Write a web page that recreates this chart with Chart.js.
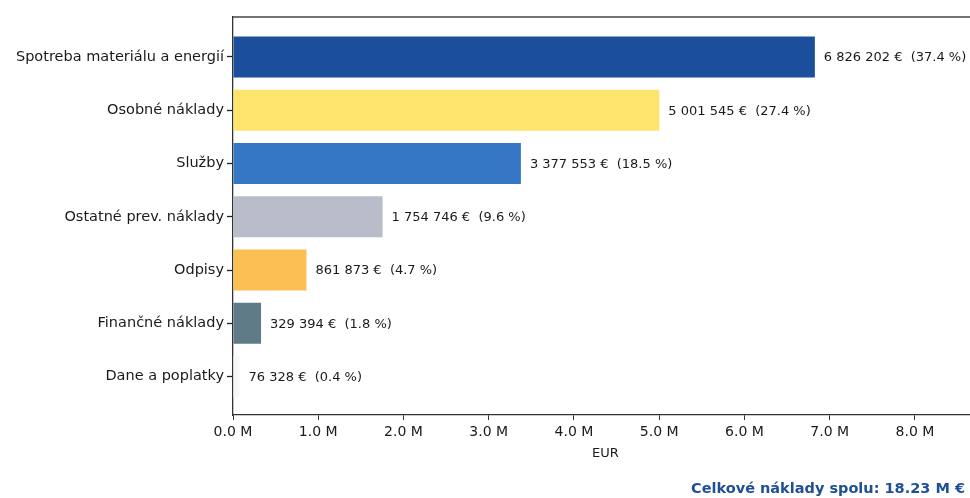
<!DOCTYPE html>
<html lang="sk">
<head>
<meta charset="utf-8">
<title>Štruktúra nákladov</title>
<script src="https://cdn.jsdelivr.net/npm/chart.js@4.4.1/dist/chart.umd.min.js"></script>
<style>
  html, body { margin: 0; padding: 0; background: #fff; overflow: hidden; }
  #wrap { position: relative; width: 970px; height: 498px; overflow: hidden; }
  #costChart { position: absolute; left: 0; top: 0; }
  #total {
    position: absolute; right: 5px; top: 480px;
    font: bold 14.5px "DejaVu Sans", sans-serif; color: #1f4f94; white-space: nowrap;
  }
</style>
</head>
<body>
<div id="wrap">
  <canvas id="costChart" width="1000" height="498"></canvas>
  <div id="total"></div>
</div>
<script>
// nákladové druhy (zhora nadol)
const categories = [
  'Spotreba materiálu a energií',
  'Osobné náklady',
  'Služby',
  'Ostatné prev. náklady',
  'Odpisy',
  'Finančné náklady',
  'Dane a poplatky'
];
const costs = [6826202, 5001545, 3377553, 1754746, 861873, 329394, 76328];
const barColors = ['#1b4f9b', '#fde46d', '#3677c5', '#b9bdc9', '#fcbf53', '#5f7b87', '#f6f7f9'];
const xTicks = [0, 1e6, 2e6, 3e6, 4e6, 5e6, 6e6, 7e6, 8e6];

const total = costs.reduce((a, b) => a + b, 0);

const FONT = 'DejaVu Sans';

function fmtEur(v) {
  return String(v).replace(/\B(?=(\d{3})+(?!\d))/g, ' ') + ' €';
}

// popisky hodnôt vpravo od stĺpcov
const valueLabels = {
  id: 'valueLabels',
  afterDatasetsDraw(chart) {
    const ctx = chart.ctx;
    const meta = chart.getDatasetMeta(0);
    ctx.save();
    ctx.font = '13px "' + FONT + '"';
    ctx.fillStyle = '#1a1a1a';
    ctx.textBaseline = 'middle';
    ctx.textAlign = 'left';
    meta.data.forEach((bar, i) => {
      const pct = (costs[i] / total * 100).toFixed(1);
      ctx.fillText(fmtEur(costs[i]) + '  (' + pct + ' %)', bar.x + 9, bar.y + 1);
    });
    ctx.restore();
  }
};

// horný okraj rámu grafu
const topFrame = {
  id: 'topFrame',
  afterDraw(chart) {
    const { ctx, chartArea } = chart;
    ctx.save();
    ctx.strokeStyle = '#444';
    ctx.lineWidth = 1.3;
    ctx.beginPath();
    ctx.moveTo(chartArea.left, chartArea.top);
    ctx.lineTo(chartArea.right, chartArea.top);
    ctx.stroke();
    ctx.restore();
  }
};

new Chart(document.getElementById('costChart'), {
  type: 'bar',
  data: {
    datasets: [{
      data: costs.map((v, i) => ({ x: v, y: i })),
      backgroundColor: barColors,
      borderWidth: 0,
      categoryPercentage: 1,
      barPercentage: 0.77
    }]
  },
  options: {
    indexAxis: 'y',
    responsive: false,
    animation: false,
    devicePixelRatio: 1,
    layout: { padding: { top: 17, right: 22, bottom: 37, left: 0 } },
    plugins: {
      legend: { display: false },
      tooltip: { enabled: false }
    },
    scales: {
      x: {
        type: 'linear',
        min: 0,
        max: 8.74e6,
        afterBuildTicks: (scale) => { scale.ticks = xTicks.map(v => ({ value: v })); },
        afterFit: (scale) => { scale.height = 46; },
        border: { display: true, color: '#333', width: 1.3 },
        grid: { drawOnChartArea: false, drawTicks: true, tickLength: 5, color: '#333' },
        ticks: {
          padding: 4,
          color: '#1a1a1a',
          font: { family: FONT, size: 14 },
          callback: (v) => (v / 1e6).toFixed(1) + ' M'
        },
        title: {
          display: true,
          text: 'EUR',
          color: '#1a1a1a',
          font: { family: FONT, size: 13 },
          padding: { top: 2, bottom: 0 }
        }
      },
      y: {
        type: 'linear',
        offset: false,
        reverse: true,
        min: -0.75,
        max: 6.72,
        afterBuildTicks: (scale) => { scale.ticks = categories.map((c, i) => ({ value: i })); },
        afterFit: (scale) => { scale.width = 233; },
        border: { display: true, color: '#333', width: 1.3 },
        grid: {
          offset: false,
          drawOnChartArea: false,
          drawTicks: true,
          tickLength: 6,
          tickWidth: 1.3,
          tickColor: '#222'
        },
        ticks: {
          padding: 3,
          color: '#1a1a1a',
          font: { family: FONT, size: 14.5 },
          callback: (v) => categories[v]
        }
      }
    }
  },
  plugins: [valueLabels, topFrame]
});

document.getElementById('total').textContent =
  'Celkové náklady spolu: ' + (total / 1e6).toFixed(2) + ' M €';
</script>
</body>
</html>
